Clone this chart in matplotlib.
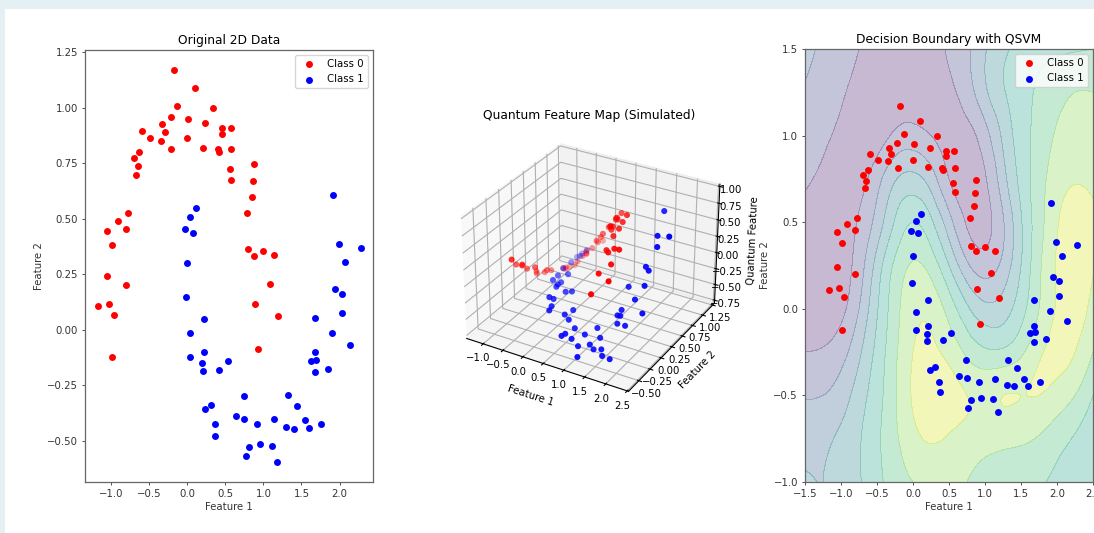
# Recreate the moons / QSVM three panel figure
import matplotlib
matplotlib.use("Agg")
import matplotlib.pyplot as plt
import matplotlib.tri as mtri
import numpy as np
from matplotlib.patches import Rectangle

# Class 0 points
x0 = [-0.18, 0.10, 0.34, -0.13, -0.22, 0.01, -0.33, -0.30, -0.60, -0.49,
      -0.35, -0.21, 0.00, 0.23, 0.46, 0.57, 0.46, 0.21, 0.40, 0.42,
      0.58, 0.56, 0.58, 0.88, 0.86, 0.85, 0.79, 0.80, 0.88, 1.00,
      1.14, -0.63, -0.70, -0.65, -0.67, -0.78, -0.91, -0.81, -1.06, -0.99,
      -1.06, -0.80, -1.17, -1.03, -0.96, -0.99, 1.09, 0.89, 1.19, 0.93]
y0 = [1.170, 1.087, 1.000, 1.010, 0.960, 0.950, 0.926, 0.892, 0.895, 0.862,
      0.851, 0.814, 0.862, 0.931, 0.910, 0.910, 0.883, 0.818, 0.815, 0.800,
      0.814, 0.724, 0.673, 0.746, 0.670, 0.596, 0.527, 0.365, 0.332, 0.357,
      0.335, 0.803, 0.772, 0.739, 0.695, 0.524, 0.491, 0.455, 0.444, 0.381,
      0.241, 0.200, 0.108, 0.118, 0.067, -0.121, 0.205, 0.115, 0.061, -0.085]
z0 = [-0.209, 0.109, 0.333, -0.131, -0.21, 0.01, -0.301, -0.265, -0.512, -0.41,
      -0.294, -0.17, 0.0, 0.212, 0.407, 0.496, 0.395, 0.171, 0.32, 0.33,
      0.455, 0.394, 0.38, 0.61, 0.545, 0.485, 0.404, 0.288, 0.288, 0.35,
      0.373, -0.485, -0.514, -0.462, -0.449, -0.398, -0.432, -0.36, -0.454, -0.368,
      -0.252, -0.159, -0.126, -0.122, -0.064, 0.12, 0.221, 0.102, 0.073, -0.079]

# Class 1 points
x1 = [1.91, 0.11, 0.04, -0.03, 0.07, 0.00, 1.99, 2.28, 2.07, -0.02,
      0.215, 0.04, 0.04, 0.215, 0.19, 0.20, 0.42, 0.53, 0.74, 0.23,
      0.31, 0.36, 0.37, 0.64, 0.75, 0.92, 1.14, 1.32, 1.44, 1.30,
      1.40, 1.54, 1.60, 1.76, 0.81, 0.77, 0.95, 1.11, 1.18, 1.68,
      1.94, 2.03, 2.03, 1.90, 2.14, 1.68, 1.69, 1.63, 1.68, 1.85]
y1 = [0.608, 0.550, 0.506, 0.452, 0.437, 0.302, 0.386, 0.368, 0.306, 0.148,
      0.049, -0.016, -0.121, -0.099, -0.147, -0.186, -0.180, -0.142, -0.298, -0.356,
      -0.338, -0.422, -0.478, -0.389, -0.400, -0.422, -0.403, -0.295, -0.343, -0.439,
      -0.448, -0.407, -0.443, -0.425, -0.527, -0.570, -0.516, -0.521, -0.596, 0.052,
      0.184, 0.162, 0.075, -0.012, -0.070, -0.099, -0.136, -0.142, -0.190, -0.177]
z1 = [0.917, 0.06, 0.02, -0.014, 0.031, 0.0, 0.695, 0.744, 0.592, -0.003,
      0.011, -0.001, -0.005, -0.021, -0.028, -0.037, -0.076, -0.075, -0.218, -0.082,
      -0.105, -0.152, -0.177, -0.246, -0.296, -0.378, -0.443, -0.38, -0.474, -0.54,
      -0.587, -0.587, -0.651, -0.68, -0.414, -0.425, -0.471, -0.547, -0.647, 0.087,
      0.35, 0.323, 0.151, -0.023, -0.149, -0.165, -0.228, -0.229, -0.314, -0.321]

# Decision surface, band index per grid node
grid_x = [-1.5, -1.25, -1.0, -0.75, -0.5, -0.25, 0.0, 0.25, 0.5, 0.75, 1.0, 1.25, 1.5, 1.75, 2.0, 2.25, 2.5]
grid_y = [-1.0, -0.75, -0.5, -0.25, 0.0, 0.25, 0.5, 0.75, 1.0, 1.25, 1.5]
surface = [
    [3.1, 3.0, 3.3, 3.9, 4.7, 5.5, 6.0, 6.2, 6.2, 6.0, 5.6, 5.4, 5.3, 5.1, 4.8, 4.4, 4.0],
    [2.7, 2.8, 3.2, 3.9, 4.8, 5.8, 6.7, 7.1, 6.9, 6.6, 6.4, 6.3, 6.2, 5.9, 5.4, 4.9, 4.3],
    [1.9, 2.0, 2.5, 3.5, 4.6, 5.9, 7.1, 7.5, 7.4, 7.0, 6.8, 7.0, 7.0, 7.0, 6.6, 6.0, 5.0],
    [1.0, 1.1, 1.6, 2.8, 4.3, 5.8, 7.0, 7.2, 6.7, 5.8, 5.2, 5.2, 5.8, 6.8, 7.3, 7.0, 6.0],
    [0.55, 0.45, 0.75, 2.0, 3.9, 5.6, 6.7, 6.7, 5.6, 4.2, 3.3, 3.5, 4.6, 6.0, 7.1, 7.4, 6.7],
    [0.6, 0.4, 0.55, 1.5, 3.4, 5.2, 6.1, 5.6, 4.0, 2.2, 1.5, 2.3, 4.0, 5.8, 7.1, 7.6, 7.1],
    [0.8, 0.55, 0.6, 1.1, 2.4, 4.1, 5.0, 4.2, 2.4, 0.9, 0.7, 1.9, 3.9, 5.6, 6.9, 7.5, 7.2],
    [1.1, 0.85, 0.6, 0.7, 1.6, 2.9, 3.3, 2.5, 1.0, 0.5, 0.9, 2.6, 4.3, 5.6, 6.5, 6.9, 6.7],
    [1.5, 1.15, 0.85, 0.6, 0.55, 1.2, 1.4, 1.0, 0.6, 0.7, 1.6, 3.2, 4.5, 5.4, 6.1, 6.3, 6.2],
    [1.9, 1.5, 1.1, 0.75, 0.5, 0.4, 0.4, 0.5, 0.8, 1.5, 2.8, 3.9, 4.6, 5.2, 5.7, 6.0, 6.0],
    [2.3, 1.8, 1.4, 1.0, 0.6, 0.4, 0.4, 0.7, 1.1, 1.8, 2.9, 3.8, 4.3, 4.6, 4.8, 4.9, 5.0],
]
band_levels = [0, 1, 2, 3, 4, 5, 6, 7, 8]

W, H = 1094, 533
FS = 7.3


def main():
    fig = plt.figure(figsize=(W / 100, H / 100), dpi=100, facecolor="#e4f0f4")
    fig.add_artist(Rectangle((5 / W, 0), 1, 1 - 9 / H, transform=fig.transFigure,
                             facecolor="white", edgecolor="none", zorder=-1))

    # Left panel
    ax = fig.add_axes(box(85, 50, 288, 432))
    scatter_classes(ax)
    ax.set_xlim(-1.345, 2.44)
    ax.set_ylim(-0.685, 1.26)
    ax.set_yticks([-0.5, -0.25, 0, 0.25, 0.5, 0.75, 1.0, 1.25])
    ax.set_title("Original 2D Data", fontsize=8.8, pad=4)
    style(ax)

    # Middle panel
    ax3 = fig.add_axes(box(445, 49, 288, 433), projection="3d")
    ax3.scatter(x0, y0, z0, c="red", s=19, linewidths=0)
    ax3.scatter(x1, y1, z1, c="blue", s=19, linewidths=0)
    ax3.set_title("Quantum Feature Map (Simulated)", fontsize=8.8, pad=0)
    ax3.set_xlabel("Feature 1", fontsize=FS, labelpad=-5)
    ax3.set_ylabel("Feature 2", fontsize=FS, labelpad=-5)
    ax3.set_zlabel("Quantum Feature", fontsize=FS, labelpad=-5)
    ax3.tick_params(labelsize=FS, pad=-3, width=0.6, length=2.5)
    ax3.set_xticks([-1, -0.5, 0, 0.5, 1, 1.5, 2, 2.5])
    ax3.set_yticks([-0.5, -0.25, 0, 0.25, 0.5, 0.75, 1.0, 1.25])
    ax3.set_zticks([-0.75, -0.5, -0.25, 0, 0.25, 0.5, 0.75, 1.0])

    # Right panel
    ax2 = fig.add_axes(box(805, 49, 288, 433))
    gx, gy = np.meshgrid(grid_x, grid_y)
    tri = mtri.Triangulation(gx.ravel(), gy.ravel())
    refiner = mtri.UniformTriRefiner(tri)
    fine_tri, fine_z = refiner.refine_field(np.array(surface).ravel(), subdiv=3)
    ax2.tricontourf(fine_tri, fine_z, levels=band_levels, cmap="viridis", alpha=0.3, extend="both")
    scatter_classes(ax2)
    ax2.set_xlim(-1.5, 2.5)
    ax2.set_ylim(-1.0, 1.5)
    ax2.set_title("Decision Boundary with QSVM", fontsize=8.8, pad=4)
    style(ax2)

    fig.savefig("out.png", dpi=100, facecolor=fig.get_facecolor())


def box(left, top, width, height):
    return [left / W, 1 - (top + height) / H, width / W, height / H]


def scatter_classes(ax):
    ax.scatter(x0, y0, c="red", s=25, linewidths=0, label="Class 0")
    ax.scatter(x1, y1, c="blue", s=25, linewidths=0, label="Class 1")


def style(ax):
    ax.set_xlabel("Feature 1", fontsize=FS, labelpad=2.5, color="#333333")
    ax.set_ylabel("Feature 2", fontsize=FS, labelpad=2.5, color="#333333")
    ax.tick_params(labelsize=FS, width=0.6, length=2.5, pad=2.5, colors="#333333")
    for spine in ax.spines.values():
        spine.set_linewidth(0.9)
        spine.set_color("#666666")
    ax.legend(loc="upper right", fontsize=FS, borderpad=0.4)


if __name__ == "__main__":
    main()
